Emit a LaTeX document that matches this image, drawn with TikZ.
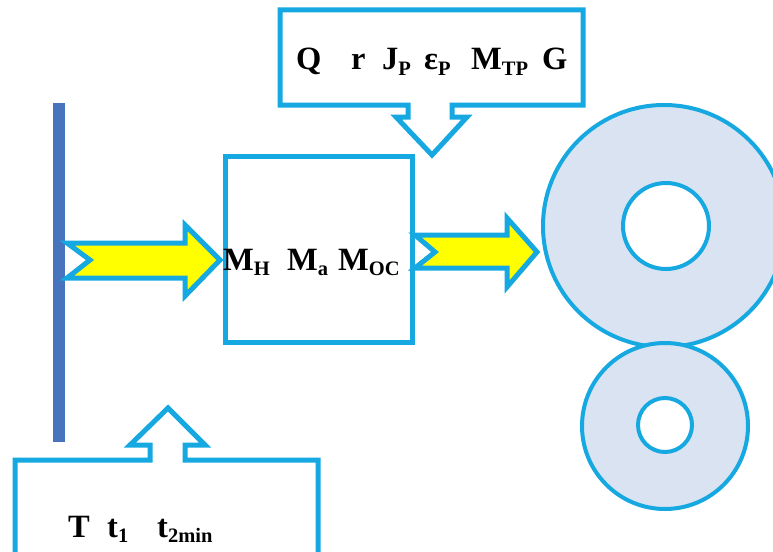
\documentclass[tikz,border=0pt]{standalone}
\usepackage{fontspec}
\setmainfont{Liberation Serif}
\definecolor{lblue}{RGB}{22,168,224}
\definecolor{barblue}{RGB}{72,116,190}
\definecolor{wheel}{RGB}{218,227,242}
\definecolor{arrowyellow}{RGB}{255,255,0}
\newcommand{\lowsub}[1]{\raisebox{-0.18em}{\fontsize{20.5}{20.5}\selectfont #1}}
\tikzset{
  outline/.style={draw=lblue, line width=5pt, line join=miter},
  fatarrow/.style={outline, fill=arrowyellow},
  ring/.style={draw=lblue, line width=4pt, fill=wheel},
  hole/.style={draw=lblue, line width=4pt, fill=white},
  lbl/.style={anchor=base west, inner sep=0pt, font=\fontsize{32.5}{32.5}\selectfont\bfseries},
}
\begin{document}
\begin{tikzpicture}[x=1pt,y=-1pt]
\useasboundingbox (0,0) rectangle (773,551);
\clip (0,0) rectangle (773,551);
% wall
\fill[barblue] (53,103) rectangle (65,442);
% top callout
\draw[outline] (280,10) -- (583,10) -- (583,105) -- (452,105) -- (452,117) -- (467,117)
  -- (432,155) -- (396,117) -- (408,117) -- (408,105) -- (280,105) -- cycle;
% bottom callout
\draw[outline] (15,460) -- (150,460) -- (150,445) -- (130,445) -- (168,408) -- (205,445)
  -- (185,445) -- (185,460) -- (318,460) -- (318,558) -- (15,558) -- cycle;
% central box
\draw[outline] (225,156) rectangle (412,342);
% arrows
\draw[fatarrow] (67,243) -- (185,243) -- (185,225) -- (220,260) -- (185,296) -- (185,278)
  -- (67,278) -- (90,260) -- cycle;
\draw[fatarrow] (415,235) -- (507,235) -- (507,218) -- (537,252) -- (507,287) -- (507,268)
  -- (415,268) -- (435,252) -- cycle;
% rolls
\draw[ring] (664,226) circle (121);
\draw[hole] (666,226) circle (43);
\draw[ring] (665,426) circle (83);
\draw[hole] (665,425) circle (27);
% labels top
\node[lbl] (q) at (296,70) {Q};
\node[lbl] (r) at (351,70) {r};
\node[lbl] (jp) at (382,70) {J\lowsub{P}};
\node[lbl] (ep) at (424,70) {ε\lowsub{P}};
\node[lbl] (mtp) at (471,70) {M\lowsub{TP}};
\node[lbl] (g) at (542,70) {G};
% labels middle
\node[lbl] (mh) at (223,270) {M\lowsub{H}};
\node[lbl] (ma) at (287,270) {M\lowsub{a}};
\node[lbl] (moc) at (338,270) {M\lowsub{OC}};
% labels bottom
\node[lbl] (tt) at (68,537) {T};
\node[lbl] (t1) at (107,537) {t\lowsub{1}};
\node[lbl] (t2) at (157,537) {t\lowsub{2min}};
\end{tikzpicture}
\end{document}
